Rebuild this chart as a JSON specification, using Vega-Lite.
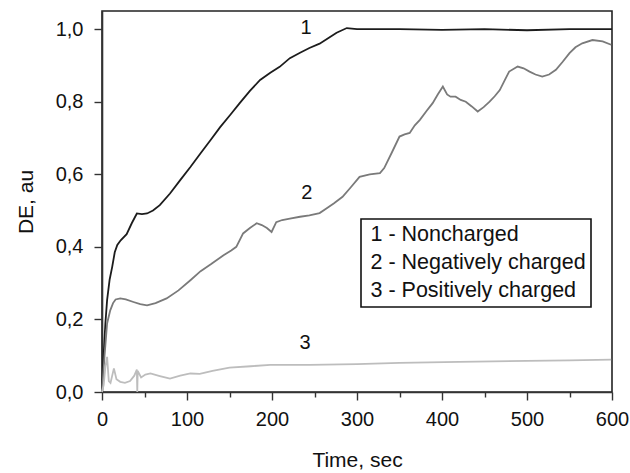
{
  "$schema": "https://vega.github.io/schema/vega-lite/v6.json",
  "width": 510,
  "height": 381,
  "autosize": {"type": "none"},
  "padding": {"left": 102, "top": 11, "right": 18, "bottom": 81},
  "background": "white",
  "config": {
    "font": "Liberation Sans",
    "view": {"stroke": "#222", "strokeWidth": 1.6},
    "axis": {
      "domainColor": "#333",
      "domainWidth": 1.6,
      "tickColor": "#333",
      "tickWidth": 1.4,
      "grid": false,
      "labelFont": "Liberation Sans",
      "labelFontSize": 20,
      "labelColor": "#111",
      "titleFont": "Liberation Sans",
      "titleFontSize": 21,
      "titleFontWeight": "normal",
      "titleColor": "#111"
    },
    "legend": {
      "orient": "none",
      "legendX": 259,
      "legendY": 208,
      "strokeColor": "#111",
      "strokeWidth": 1.6,
      "fillColor": "white",
      "padding": 5,
      "symbolType": "circle",
      "symbolSize": 0,
      "symbolOpacity": 0,
      "symbolStrokeWidth": 0,
      "labelOffset": -17,
      "labelFont": "Liberation Sans",
      "labelFontSize": 21.5,
      "labelColor": "#111",
      "rowPadding": 5,
      "labelLimit": 400
    }
  },
  "datasets": {
    "curves": [
      {"t": 0, "de": 0.0, "series": "1 - Noncharged"},
      {"t": 2, "de": 0.106, "series": "1 - Noncharged"},
      {"t": 4, "de": 0.19, "series": "1 - Noncharged"},
      {"t": 6, "de": 0.253, "series": "1 - Noncharged"},
      {"t": 9, "de": 0.31, "series": "1 - Noncharged"},
      {"t": 12, "de": 0.345, "series": "1 - Noncharged"},
      {"t": 15, "de": 0.385, "series": "1 - Noncharged"},
      {"t": 18, "de": 0.405, "series": "1 - Noncharged"},
      {"t": 22, "de": 0.418, "series": "1 - Noncharged"},
      {"t": 29, "de": 0.435, "series": "1 - Noncharged"},
      {"t": 35, "de": 0.465, "series": "1 - Noncharged"},
      {"t": 41, "de": 0.492, "series": "1 - Noncharged"},
      {"t": 47, "de": 0.49, "series": "1 - Noncharged"},
      {"t": 53, "de": 0.492, "series": "1 - Noncharged"},
      {"t": 60, "de": 0.5, "series": "1 - Noncharged"},
      {"t": 68, "de": 0.515, "series": "1 - Noncharged"},
      {"t": 80, "de": 0.547, "series": "1 - Noncharged"},
      {"t": 92, "de": 0.584, "series": "1 - Noncharged"},
      {"t": 104, "de": 0.62, "series": "1 - Noncharged"},
      {"t": 116, "de": 0.658, "series": "1 - Noncharged"},
      {"t": 128, "de": 0.695, "series": "1 - Noncharged"},
      {"t": 139, "de": 0.73, "series": "1 - Noncharged"},
      {"t": 151, "de": 0.764, "series": "1 - Noncharged"},
      {"t": 162, "de": 0.796, "series": "1 - Noncharged"},
      {"t": 174, "de": 0.83, "series": "1 - Noncharged"},
      {"t": 186, "de": 0.86, "series": "1 - Noncharged"},
      {"t": 198, "de": 0.88, "series": "1 - Noncharged"},
      {"t": 209, "de": 0.896, "series": "1 - Noncharged"},
      {"t": 221, "de": 0.92, "series": "1 - Noncharged"},
      {"t": 233, "de": 0.935, "series": "1 - Noncharged"},
      {"t": 244, "de": 0.948, "series": "1 - Noncharged"},
      {"t": 256, "de": 0.96, "series": "1 - Noncharged"},
      {"t": 266, "de": 0.975, "series": "1 - Noncharged"},
      {"t": 276, "de": 0.99, "series": "1 - Noncharged"},
      {"t": 288, "de": 1.003, "series": "1 - Noncharged"},
      {"t": 300, "de": 1.0, "series": "1 - Noncharged"},
      {"t": 350, "de": 1.0, "series": "1 - Noncharged"},
      {"t": 400, "de": 0.998, "series": "1 - Noncharged"},
      {"t": 450, "de": 1.0, "series": "1 - Noncharged"},
      {"t": 500, "de": 0.997, "series": "1 - Noncharged"},
      {"t": 550, "de": 1.0, "series": "1 - Noncharged"},
      {"t": 600, "de": 1.0, "series": "1 - Noncharged"},

      {"t": 0, "de": 0.0, "series": "2 - Negatively charged"},
      {"t": 3, "de": 0.1, "series": "2 - Negatively charged"},
      {"t": 6, "de": 0.189, "series": "2 - Negatively charged"},
      {"t": 9.7, "de": 0.225, "series": "2 - Negatively charged"},
      {"t": 13, "de": 0.245, "series": "2 - Negatively charged"},
      {"t": 16, "de": 0.255, "series": "2 - Negatively charged"},
      {"t": 21.5, "de": 0.258, "series": "2 - Negatively charged"},
      {"t": 28, "de": 0.255, "series": "2 - Negatively charged"},
      {"t": 37, "de": 0.248, "series": "2 - Negatively charged"},
      {"t": 45, "de": 0.242, "series": "2 - Negatively charged"},
      {"t": 53, "de": 0.239, "series": "2 - Negatively charged"},
      {"t": 63, "de": 0.245, "series": "2 - Negatively charged"},
      {"t": 76, "de": 0.258, "series": "2 - Negatively charged"},
      {"t": 90, "de": 0.28, "series": "2 - Negatively charged"},
      {"t": 104, "de": 0.308, "series": "2 - Negatively charged"},
      {"t": 116, "de": 0.333, "series": "2 - Negatively charged"},
      {"t": 128, "de": 0.352, "series": "2 - Negatively charged"},
      {"t": 143, "de": 0.377, "series": "2 - Negatively charged"},
      {"t": 152, "de": 0.39, "series": "2 - Negatively charged"},
      {"t": 158, "de": 0.4, "series": "2 - Negatively charged"},
      {"t": 166, "de": 0.437, "series": "2 - Negatively charged"},
      {"t": 174, "de": 0.452, "series": "2 - Negatively charged"},
      {"t": 182, "de": 0.465, "series": "2 - Negatively charged"},
      {"t": 188, "de": 0.46, "series": "2 - Negatively charged"},
      {"t": 194, "de": 0.452, "series": "2 - Negatively charged"},
      {"t": 199.5, "de": 0.441, "series": "2 - Negatively charged"},
      {"t": 205, "de": 0.468, "series": "2 - Negatively charged"},
      {"t": 212, "de": 0.474, "series": "2 - Negatively charged"},
      {"t": 221, "de": 0.478, "series": "2 - Negatively charged"},
      {"t": 233, "de": 0.483, "series": "2 - Negatively charged"},
      {"t": 244, "de": 0.487, "series": "2 - Negatively charged"},
      {"t": 256, "de": 0.493, "series": "2 - Negatively charged"},
      {"t": 264, "de": 0.506, "series": "2 - Negatively charged"},
      {"t": 273, "de": 0.52, "series": "2 - Negatively charged"},
      {"t": 283, "de": 0.538, "series": "2 - Negatively charged"},
      {"t": 293, "de": 0.565, "series": "2 - Negatively charged"},
      {"t": 303, "de": 0.593, "series": "2 - Negatively charged"},
      {"t": 315, "de": 0.6, "series": "2 - Negatively charged"},
      {"t": 327, "de": 0.603, "series": "2 - Negatively charged"},
      {"t": 332, "de": 0.617, "series": "2 - Negatively charged"},
      {"t": 341, "de": 0.66, "series": "2 - Negatively charged"},
      {"t": 350, "de": 0.704, "series": "2 - Negatively charged"},
      {"t": 356, "de": 0.71, "series": "2 - Negatively charged"},
      {"t": 362, "de": 0.714, "series": "2 - Negatively charged"},
      {"t": 368, "de": 0.735, "series": "2 - Negatively charged"},
      {"t": 374, "de": 0.75, "series": "2 - Negatively charged"},
      {"t": 382, "de": 0.775, "series": "2 - Negatively charged"},
      {"t": 389, "de": 0.796, "series": "2 - Negatively charged"},
      {"t": 395, "de": 0.82, "series": "2 - Negatively charged"},
      {"t": 401, "de": 0.842, "series": "2 - Negatively charged"},
      {"t": 406, "de": 0.82, "series": "2 - Negatively charged"},
      {"t": 410, "de": 0.814, "series": "2 - Negatively charged"},
      {"t": 416, "de": 0.814, "series": "2 - Negatively charged"},
      {"t": 422, "de": 0.805, "series": "2 - Negatively charged"},
      {"t": 428, "de": 0.8, "series": "2 - Negatively charged"},
      {"t": 435, "de": 0.787, "series": "2 - Negatively charged"},
      {"t": 442, "de": 0.773, "series": "2 - Negatively charged"},
      {"t": 449, "de": 0.785, "series": "2 - Negatively charged"},
      {"t": 456, "de": 0.8, "series": "2 - Negatively charged"},
      {"t": 462, "de": 0.815, "series": "2 - Negatively charged"},
      {"t": 468, "de": 0.832, "series": "2 - Negatively charged"},
      {"t": 474, "de": 0.86, "series": "2 - Negatively charged"},
      {"t": 479, "de": 0.883, "series": "2 - Negatively charged"},
      {"t": 489, "de": 0.897, "series": "2 - Negatively charged"},
      {"t": 496, "de": 0.892, "series": "2 - Negatively charged"},
      {"t": 503, "de": 0.883, "series": "2 - Negatively charged"},
      {"t": 510, "de": 0.875, "series": "2 - Negatively charged"},
      {"t": 518, "de": 0.869, "series": "2 - Negatively charged"},
      {"t": 526, "de": 0.875, "series": "2 - Negatively charged"},
      {"t": 534, "de": 0.888, "series": "2 - Negatively charged"},
      {"t": 542, "de": 0.91, "series": "2 - Negatively charged"},
      {"t": 550, "de": 0.934, "series": "2 - Negatively charged"},
      {"t": 557, "de": 0.95, "series": "2 - Negatively charged"},
      {"t": 565, "de": 0.961, "series": "2 - Negatively charged"},
      {"t": 577, "de": 0.97, "series": "2 - Negatively charged"},
      {"t": 589, "de": 0.966, "series": "2 - Negatively charged"},
      {"t": 599, "de": 0.957, "series": "2 - Negatively charged"},

      {"t": 0, "de": 0.0, "series": "3 - Positively charged"},
      {"t": 2, "de": 0.02, "series": "3 - Positively charged"},
      {"t": 4, "de": 0.07, "series": "3 - Positively charged"},
      {"t": 6, "de": 0.097, "series": "3 - Positively charged"},
      {"t": 8, "de": 0.03, "series": "3 - Positively charged"},
      {"t": 10, "de": 0.025, "series": "3 - Positively charged"},
      {"t": 14, "de": 0.065, "series": "3 - Positively charged"},
      {"t": 17, "de": 0.035, "series": "3 - Positively charged"},
      {"t": 21.5, "de": 0.028, "series": "3 - Positively charged"},
      {"t": 27, "de": 0.025, "series": "3 - Positively charged"},
      {"t": 33, "de": 0.03, "series": "3 - Positively charged"},
      {"t": 38, "de": 0.045, "series": "3 - Positively charged"},
      {"t": 41, "de": 0.062, "series": "3 - Positively charged"},
      {"t": 41.5, "de": 0.0, "series": "3 - Positively charged"},
      {"t": 42, "de": 0.058, "series": "3 - Positively charged"},
      {"t": 46, "de": 0.04, "series": "3 - Positively charged"},
      {"t": 51, "de": 0.048, "series": "3 - Positively charged"},
      {"t": 57, "de": 0.051, "series": "3 - Positively charged"},
      {"t": 68, "de": 0.044, "series": "3 - Positively charged"},
      {"t": 80, "de": 0.037, "series": "3 - Positively charged"},
      {"t": 92, "de": 0.045, "series": "3 - Positively charged"},
      {"t": 104, "de": 0.051, "series": "3 - Positively charged"},
      {"t": 115, "de": 0.05, "series": "3 - Positively charged"},
      {"t": 130, "de": 0.058, "series": "3 - Positively charged"},
      {"t": 150, "de": 0.067, "series": "3 - Positively charged"},
      {"t": 175, "de": 0.071, "series": "3 - Positively charged"},
      {"t": 198, "de": 0.075, "series": "3 - Positively charged"},
      {"t": 244, "de": 0.075, "series": "3 - Positively charged"},
      {"t": 300, "de": 0.077, "series": "3 - Positively charged"},
      {"t": 350, "de": 0.08, "series": "3 - Positively charged"},
      {"t": 420, "de": 0.083, "series": "3 - Positively charged"},
      {"t": 500, "de": 0.086, "series": "3 - Positively charged"},
      {"t": 550, "de": 0.087, "series": "3 - Positively charged"},
      {"t": 599, "de": 0.089, "series": "3 - Positively charged"}
    ],
    "labels": [
      {"t": 240, "de": 1.003, "label": "1"},
      {"t": 241, "de": 0.549, "label": "2"},
      {"t": 239, "de": 0.134, "label": "3"}
    ]
  },
  "layer": [
    {
      "data": {"name": "curves"},
      "mark": {"type": "line", "strokeWidth": 1.8},
      "encoding": {
        "x": {
          "field": "t",
          "type": "quantitative",
          "scale": {"domain": [0, 600], "nice": false},
          "axis": {
            "title": "Time, sec",
            "values": [0, 50, 100, 150, 200, 250, 300, 350, 400, 450, 500, 550, 600],
            "labelExpr": "datum.value % 100 == 0 ? datum.label : ''",
            "tickSize": {"condition": {"test": "datum.value % 100 != 0", "value": 5}, "value": 8},
            "labelPadding": 9,
            "titlePadding": 20,
            "labelFlush": false
          }
        },
        "y": {
          "field": "de",
          "type": "quantitative",
          "scale": {"domain": [0, 1.05], "nice": false},
          "axis": {
            "title": "DE, au",
            "values": [0, 0.1, 0.2, 0.3, 0.4, 0.5, 0.6, 0.7, 0.8, 0.9, 1.0],
            "labelExpr": "round(datum.value * 10) % 2 == 0 ? replace(format(datum.value, '.1f'), '.', ',') : ''",
            "tickSize": {"condition": {"test": "round(datum.value * 10) % 2 == 1", "value": 5}, "value": 8},
            "labelPadding": 11,
            "titlePadding": 19,
            "labelFlush": false
          }
        },
        "color": {
          "field": "series",
          "type": "nominal",
          "scale": {
            "domain": ["1 - Noncharged", "2 - Negatively charged", "3 - Positively charged"],
            "range": ["#1c1c1c", "#7a7a7a", "#bdbdbd"]
          },
          "legend": {"title": null}
        }
      }
    },
    {
      "data": {"name": "labels"},
      "mark": {"type": "text", "fontSize": 20, "font": "Liberation Sans", "color": "#111"},
      "encoding": {
        "x": {"field": "t", "type": "quantitative"},
        "y": {"field": "de", "type": "quantitative"},
        "text": {"field": "label"}
      }
    }
  ]
}
